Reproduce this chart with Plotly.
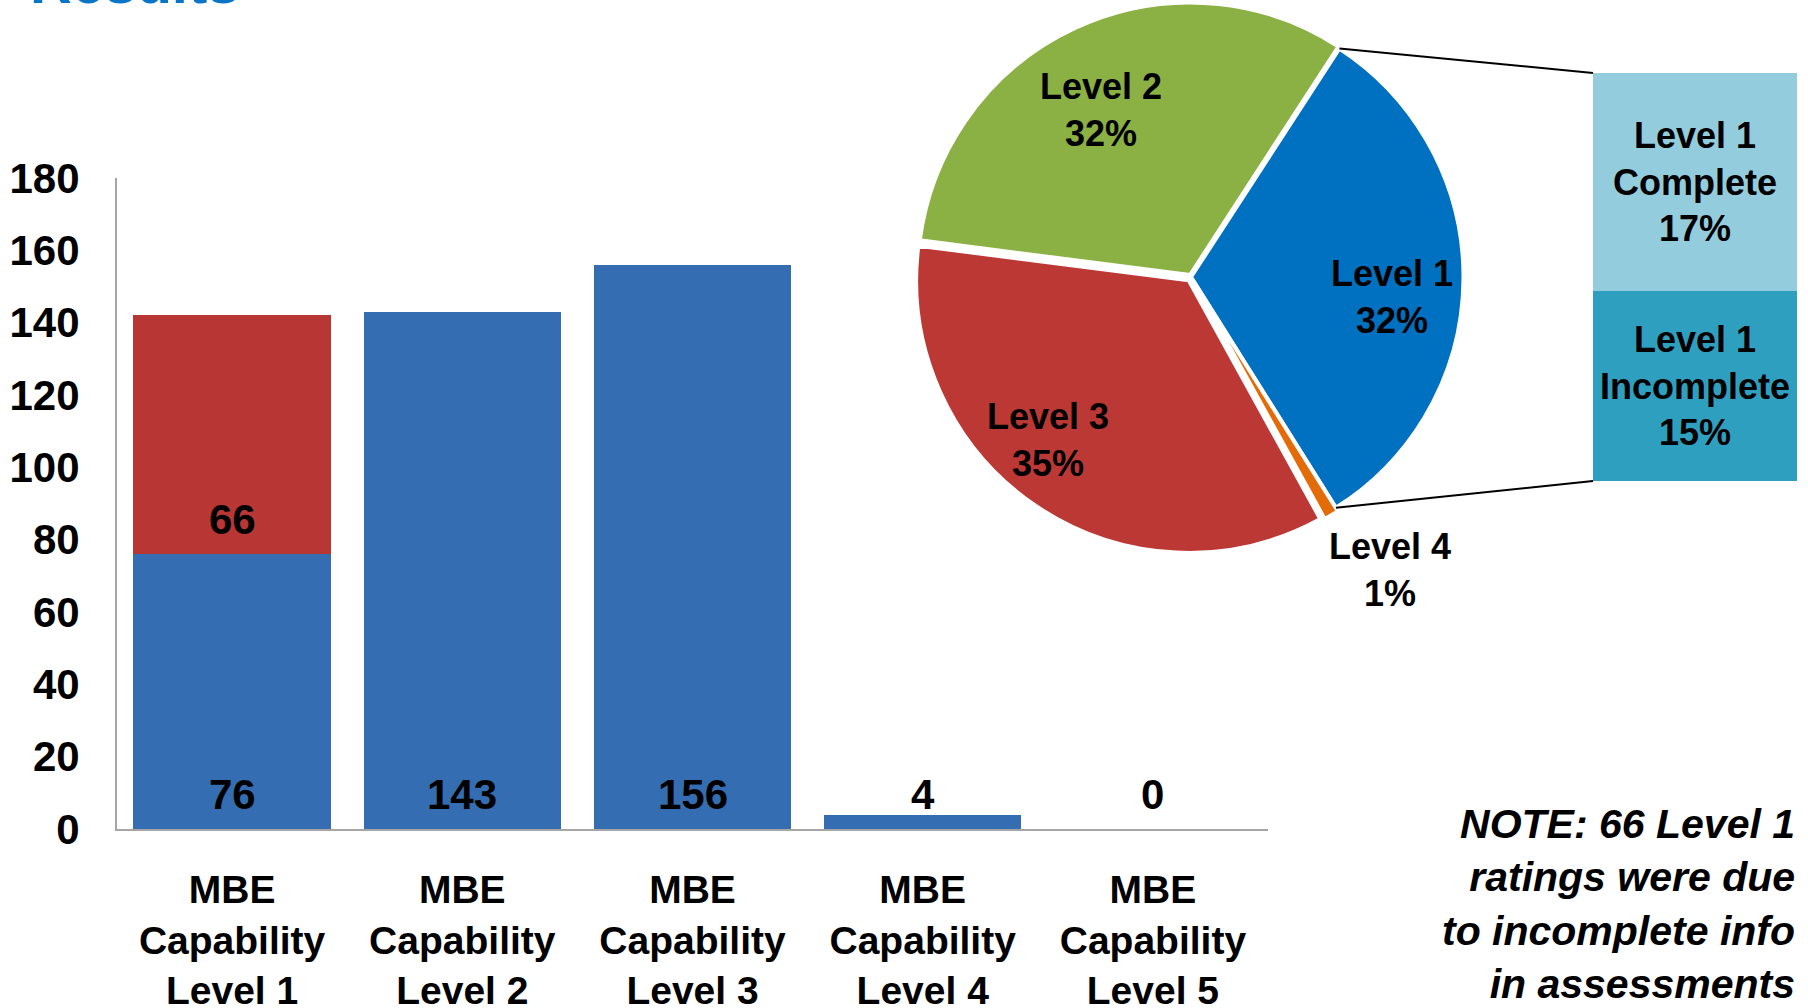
import math
import plotly.graph_objects as go

# ---- data -----------------------------------------------------------------
level_names = ["Level 1", "Level 2", "Level 3", "Level 4", "Level 5"]
category_labels = [
    "MBE<br>Capability<br>Level 1",
    "MBE<br>Capability<br>Level 2",
    "MBE<br>Capability<br>Level 3",
    "MBE<br>Capability<br>Level 4",
    "MBE<br>Capability<br>Level 5",
]
rated_counts = [76, 143, 156, 4, 0]        # ratings with complete info
incomplete_counts = [66, 0, 0, 0, 0]       # Level 1 ratings due to incomplete info
y_ticks = [0, 20, 40, 60, 80, 100, 120, 140, 160, 180]

# pie slices, clockwise starting with Level 1
pie_levels = ["Level 1", "Level 4", "Level 3", "Level 2"]
pie_colors = {"Level 1": "#0070C0", "Level 2": "#8BB043",
              "Level 3": "#BC3835", "Level 4": "#E36C09"}
pie_pull = {"Level 1": 0.0, "Level 4": 0.015, "Level 3": 0.015, "Level 2": 0.008}

# breakdown of the Level 1 slice (stacked bottom -> top)
split_names = ["Level 1<br>Incomplete", "Level 1<br>Complete"]
split_counts = [incomplete_counts[0], rated_counts[0]]
split_colors = ["#2F9FC0", "#93CDDD"]

# ---- helpers --------------------------------------------------------------
W, H = 1808, 1008
BOLD = "Liberation Sans, Arial, sans-serif"
NARROW = "Liberation Sans Narrow, Arial Narrow, Liberation Sans, sans-serif"


def fx(px):
    return min(max(px / W, 0.0), 1.0)


def fy(py):
    return min(max(1 - py / H, 0.0), 1.0)


level_totals = [a + b for a, b in zip(rated_counts, incomplete_counts)]
grand_total = sum(level_totals)
total_by_level = dict(zip(level_names, level_totals))
pie_values = [total_by_level[n] for n in pie_levels]


def pct(v):
    return int(round(100.0 * v / grand_total))


fig = go.Figure()

# ---- stacked bar chart ----------------------------------------------------
fig.add_trace(go.Bar(
    x=category_labels, y=rated_counts, width=0.857,
    marker=dict(color="#346DB2", line=dict(width=0)),
    xaxis="x", yaxis="y", hoverinfo="skip", showlegend=False,
))
fig.add_trace(go.Bar(
    x=category_labels, y=incomplete_counts, width=0.857,
    marker=dict(color="#B83634", line=dict(width=0)),
    xaxis="x", yaxis="y", hoverinfo="skip", showlegend=False,
))

value_font = dict(family=BOLD, size=42, color="black", weight="bold")
annotations = []
for cat, v, extra in zip(category_labels, rated_counts, incomplete_counts):
    annotations.append(dict(x=cat, y=0, xref="x", yref="y", text=str(v),
                            showarrow=False, yanchor="bottom", yshift=9,
                            font=value_font))
    if extra > 0:
        annotations.append(dict(x=cat, y=v, xref="x", yref="y", text=str(extra),
                                showarrow=False, yanchor="bottom", yshift=9,
                                font=value_font))

# ---- pie --------------------------------------------------------------------
pie_cx, pie_cy, pie_r = 1191, 277, 272.5
pie_rotation = 33
max_pull = max(pie_pull.values())
half = pie_r * (1 + max_pull)
fig.add_trace(go.Pie(
    labels=pie_levels, values=pie_values, sort=False, direction="clockwise",
    rotation=pie_rotation, textinfo="none", hoverinfo="skip", showlegend=False,
    pull=[pie_pull[n] for n in pie_levels],
    marker=dict(colors=[pie_colors[n] for n in pie_levels],
                line=dict(color="white", width=4)),
    domain=dict(x=[fx(pie_cx - half), fx(pie_cx + half)],
                y=[fy(pie_cy + half), fy(pie_cy - half)]),
))

pie_label_pos = {"Level 2": (1101, 110), "Level 1": (1392, 297),
                 "Level 3": (1048, 440), "Level 4": (1390, 570)}
for name in pie_levels:
    px, py = pie_label_pos[name]
    annotations.append(dict(x=fx(px), y=fy(py), xref="paper", yref="paper",
                            text=f"{name}<br>{pct(total_by_level[name])}%",
                            showarrow=False, xanchor="center", yanchor="middle",
                            font=dict(family=NARROW, size=36, color="black", weight="bold")))

# ---- Level 1 breakdown column ---------------------------------------------
box_x0, box_x1, box_y0, box_y1 = 1593, 1797, 73, 481
for name, v, c in zip(split_names, split_counts, split_colors):
    fig.add_trace(go.Bar(
        x=["Level 1"], y=[v], width=1, marker=dict(color=c, line=dict(width=0)),
        text=[f"{name}<br>{pct(v)}%"], textposition="inside",
        insidetextanchor="middle", constraintext="none", textangle=0,
        textfont=dict(family=NARROW, size=36, color="black", weight="bold"),
        xaxis="x2", yaxis="y2", hoverinfo="skip", showlegend=False,
    ))

# connector lines from the Level 1 slice edges to the breakdown column
a_start = math.radians(pie_rotation)
a_end = a_start + 2 * math.pi * pie_values[0] / grand_total
shapes = []
for ang, by in ((a_start, box_y0), (a_end, box_y1)):
    sx = pie_cx + pie_r * math.sin(ang)
    sy = pie_cy - pie_r * math.cos(ang)
    shapes.append(dict(type="line", xref="paper", yref="paper",
                       x0=fx(sx), y0=fy(sy), x1=fx(box_x0), y1=fy(by),
                       line=dict(color="black", width=2)))

# ---- texts ----------------------------------------------------------------
annotations.append(dict(x=fx(28), y=1, xref="paper", yref="paper", text="Results",
                        showarrow=False, xanchor="left", yanchor="bottom", yshift=-17,
                        font=dict(family=BOLD, size=58, color="#0A74C8", weight="bold")))
annotations.append(dict(
    x=fx(1797), y=fy(904), xref="paper", yref="paper",
    text=(f"NOTE: {incomplete_counts[0]} Level 1<br>ratings were due"
          "<br>to incomplete info<br>in assessments"),
    showarrow=False, xanchor="right", yanchor="middle", align="right",
    font=dict(family=BOLD, size=41, color="black", weight="bold", style="italic")))

fig.update_layout(
    width=W, height=H, margin=dict(l=0, r=0, t=0, b=0, autoexpand=False),
    paper_bgcolor="white", plot_bgcolor="white", barmode="stack",
    xaxis=dict(domain=[fx(117), fx(1268)], anchor="y", range=[-0.5, 4.5],
               categoryorder="array", categoryarray=category_labels,
               showline=True, linecolor="#A6A6A6", linewidth=2, ticks="",
               showgrid=False, zeroline=False, ticklabelstandoff=25,
               automargin=False,
               tickfont=dict(family=BOLD, size=39, color="black", weight="bold")),
    yaxis=dict(domain=[fy(829), fy(178)], anchor="x", range=[0, 180],
               tickvals=y_ticks, showline=True, linecolor="#A6A6A6", linewidth=2,
               ticks="", showgrid=False, zeroline=False, ticklabelstandoff=27,
               automargin=False,
               tickfont=dict(family=BOLD, size=42, color="black", weight="bold")),
    xaxis2=dict(domain=[fx(box_x0), fx(box_x1)], anchor="y2", range=[-0.5, 0.5],
                visible=False),
    yaxis2=dict(domain=[fy(box_y1), fy(box_y0)], anchor="x2",
                range=[0, sum(split_counts)], visible=False),
    annotations=annotations, shapes=shapes,
)

fig.write_html("out.html")
